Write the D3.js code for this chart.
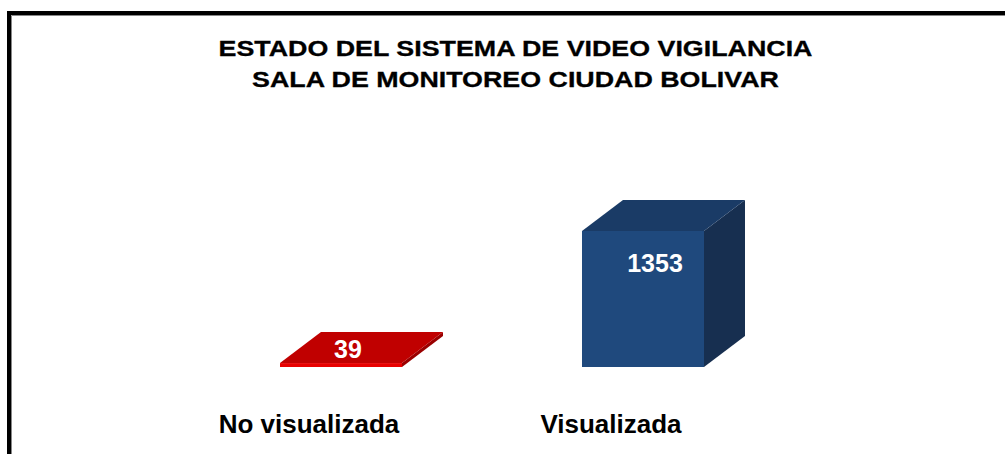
<!DOCTYPE html>
<html>
<head>
<meta charset="utf-8">
<script src="https://cdn.jsdelivr.net/npm/d3@7"></script>
<style>
  body { margin: 0; background: #fff; }
  text { font-family: "Liberation Sans", Arial, sans-serif; font-weight: bold; }
</style>
</head>
<body>
<div id="chart"></div>
<script>
const categories = ["No visualizada", "Visualizada"]
const values = [39, 1353]
const titleLines = ["ESTADO DEL SISTEMA DE VIDEO VIGILANCIA", "SALA DE MONITOREO CIUDAD BOLIVAR"]

const W = 1005, H = 454
const depth = {dx: 41, dy: -31}

// colours per bar: front, top, side
const palette = [
  {front: "#e80000", top: "#c00000", side: "#9a0000"},
  {front: "#1f497d", top: "#1a3b66", side: "#172f50"}
]

const svg = d3.select("#chart").append("svg")
    .attr("width", W)
    .attr("height", H)

// frame (only top + left visible in the picture)
svg.append("path")
    .attr("d", "M9,454 V13 H1005")
    .attr("fill", "none")
    .attr("stroke", "#000")
    .attr("stroke-width", 4)
svg.append("path")
    .attr("d", "M11.5,454 V15.5 H1005")
    .attr("fill", "none")
    .attr("stroke", "#888")
    .attr("stroke-width", 1)

// title
svg.selectAll("text.title")
  .data(titleLines)
  .enter().append("text")
    .attr("class", "title")
    .attr("text-anchor", "middle")
    .attr("transform", (d, i) => `translate(515.5,${56 + i * 31}) scale(1.22,1)`)
    .style("font-size", "22px")
    .attr("fill", "#000")
    .attr("stroke", "#000")
    .attr("stroke-width", 0.3)
    .text(d => d)

const x = d3.scaleBand()
    .domain(categories)
    .range([129, 855])
    .paddingInner(0.596)
    .paddingOuter(0.5)

const y = d3.scaleLinear()
    .domain([0, 1353])
    .range([367, 231])

const data = categories.map((c, i) => ({name: c, value: values[i], col: palette[i]}))

const bars = svg.selectAll("g.bar")
  .data(data)
  .enter().append("g")
    .attr("class", "bar")

// side face
bars.append("path")
    .attr("fill", d => d.col.side)
    .attr("d", d => {
      const x1 = x(d.name) + x.bandwidth(), y0 = y(0), y1 = y(d.value)
      return `M${x1},${y0} L${x1},${y1} L${x1 + depth.dx},${y1 + depth.dy} L${x1 + depth.dx},${y0 + depth.dy} Z`
    })

// top face
bars.append("path")
    .attr("fill", d => d.col.top)
    .attr("d", d => {
      const x0 = x(d.name), x1 = x0 + x.bandwidth(), y1 = y(d.value)
      return `M${x0},${y1} L${x1},${y1} L${x1 + depth.dx},${y1 + depth.dy} L${x0 + depth.dx},${y1 + depth.dy} Z`
    })

// front face
bars.append("rect")
    .attr("fill", d => d.col.front)
    .attr("x", d => x(d.name))
    .attr("y", d => y(d.value))
    .attr("width", x.bandwidth())
    .attr("height", d => y(0) - y(d.value))

// value labels
bars.append("text")
    .attr("text-anchor", "middle")
    .attr("fill", "#fff")
    .style("font-size", "25px")
    .attr("x", d => x(d.name) + x.bandwidth() / 2 + (y(0) - y(d.value) > 50 ? 12 : 7))
    .attr("y", d => (y(0) - y(d.value) > 50) ? y(d.value) + 41 : y(d.value) - 5)
    .text(d => d.value)

// category labels
svg.selectAll("text.cat")
  .data(categories)
  .enter().append("text")
    .attr("class", "cat")
    .attr("text-anchor", "middle")
    .attr("x", d => x(d) + x.bandwidth() / 2 - 32)
    .attr("y", 433)
    .style("font-size", "26px")
    .attr("fill", "#000")
    .text(d => d)
</script>
</body>
</html>
